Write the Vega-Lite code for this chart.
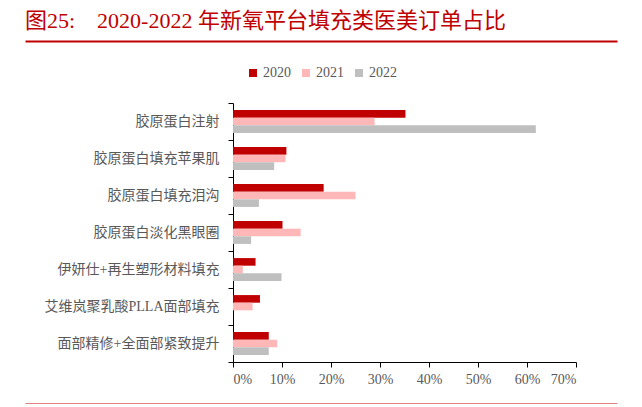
{
  "$schema": "https://vega.github.io/schema/vega-lite/v6.json",
  "background": "white",
  "padding": {"left": 22, "top": 10, "right": 0, "bottom": 0},
  "spacing": 12,
  "bounds": "full",
  "resolve": {"legend": {"color": "independent"}},
  "config": {
    "view": {"stroke": null},
    "axis": {"labelFont": "Liberation Serif, Noto Sans CJK SC", "labelColor": "#595959", "labelFontSize": 14}
  },
  "datasets": {
    "orders": [
      {"cat": "胶原蛋白注射", "year": "2020", "value": 35.2},
      {"cat": "胶原蛋白注射", "year": "2021", "value": 28.9},
      {"cat": "胶原蛋白注射", "year": "2022", "value": 61.8},
      {"cat": "胶原蛋白填充苹果肌", "year": "2020", "value": 10.9},
      {"cat": "胶原蛋白填充苹果肌", "year": "2021", "value": 10.7},
      {"cat": "胶原蛋白填充苹果肌", "year": "2022", "value": 8.4},
      {"cat": "胶原蛋白填充泪沟", "year": "2020", "value": 18.5},
      {"cat": "胶原蛋白填充泪沟", "year": "2021", "value": 25.0},
      {"cat": "胶原蛋白填充泪沟", "year": "2022", "value": 5.3},
      {"cat": "胶原蛋白淡化黑眼圈", "year": "2020", "value": 10.1},
      {"cat": "胶原蛋白淡化黑眼圈", "year": "2021", "value": 13.8},
      {"cat": "胶原蛋白淡化黑眼圈", "year": "2022", "value": 3.7},
      {"cat": "伊妍仕+再生塑形材料填充", "year": "2020", "value": 4.6},
      {"cat": "伊妍仕+再生塑形材料填充", "year": "2021", "value": 2.0},
      {"cat": "伊妍仕+再生塑形材料填充", "year": "2022", "value": 9.9},
      {"cat": "艾维岚聚乳酸PLLA面部填充", "year": "2020", "value": 5.5},
      {"cat": "艾维岚聚乳酸PLLA面部填充", "year": "2021", "value": 4.0},
      {"cat": "艾维岚聚乳酸PLLA面部填充", "year": "2022", "value": 0},
      {"cat": "面部精修+全面部紧致提升", "year": "2020", "value": 7.3},
      {"cat": "面部精修+全面部紧致提升", "year": "2021", "value": 9.0},
      {"cat": "面部精修+全面部紧致提升", "year": "2022", "value": 7.3}
    ]
  },
  "vconcat": [
    {
      "width": 384,
      "height": 13,
      "title": {
        "text": "图25:\u00a0\u00a0\u00a0\u00a02020-2022 年新氧平台填充类医美订单占比",
        "anchor": "start",
        "frame": "group",
        "dx": -208,
        "color": "#C00000",
        "fontSize": 22,
        "fontWeight": "normal",
        "font": "Liberation Serif, Noto Sans CJK SC",
        "offset": 8
      },
      "data": {"values": [{"v": 0}]},
      "mark": {"type": "point", "opacity": 0},
      "encoding": {
        "x": {
          "field": "v", "type": "quantitative",
          "scale": {"domain": [0, 1], "range": [-208, 384]},
          "axis": {"orient": "top", "domainColor": "#C00000", "domainWidth": 2, "ticks": false, "labels": false, "title": null, "grid": false}
        }
      }
    },
    {
      "width": 343,
      "height": 259,
      "data": {"name": "orders"},
      "mark": {"type": "bar"},
      "encoding": {
        "y": {
          "field": "cat", "type": "nominal",
          "sort": ["胶原蛋白注射", "胶原蛋白填充苹果肌", "胶原蛋白填充泪沟", "胶原蛋白淡化黑眼圈", "伊妍仕+再生塑形材料填充", "艾维岚聚乳酸PLLA面部填充", "面部精修+全面部紧致提升"],
          "scale": {"paddingInner": 0, "paddingOuter": 0},
          "axis": {
            "title": null,
            "tickBand": "extent", "tickSize": 5, "tickColor": "#000000", "domainColor": "#000000",
            "labelPadding": 9, "grid": false
          }
        },
        "yOffset": {
          "field": "year", "type": "nominal",
          "scale": {"paddingInner": 0, "paddingOuter": 0.93}
        },
        "x": {
          "field": "value", "type": "quantitative",
          "scale": {"domain": [0, 70], "nice": false},
          "axis": {
            "title": null, "values": [0, 10, 20, 30, 40, 50, 60, 70],
            "labelExpr": "datum.value + '%'", "grid": false,
            "tickSize": 5, "tickColor": "#000000", "domainColor": "#000000", "labelPadding": 5
          }
        },
        "color": {
          "field": "year", "type": "nominal",
          "scale": {"domain": ["2020", "2021", "2022"], "range": ["#C00000", "#FFB7B7", "#BFBFBF"]},
          "legend": {
            "title": null, "orient": "none", "legendX": 13, "legendY": -37,
            "direction": "horizontal", "symbolType": "square", "symbolSize": 64,
            "symbolStrokeWidth": 0, "labelFont": "Liberation Serif", "labelFontSize": 14,
            "labelColor": "#595959", "columnPadding": 8, "padding": 0, "labelOffset": 3
          }
        }
      }
    },
    {
      "width": 384,
      "height": 6,
      "data": {"values": [{"v": 0}]},
      "mark": {"type": "point", "opacity": 0},
      "encoding": {
        "x": {
          "field": "v", "type": "quantitative",
          "scale": {"domain": [0, 1], "range": [-208, 384]},
          "axis": {"orient": "bottom", "domainColor": "#C00000", "domainWidth": 2, "ticks": false, "labels": false, "title": null, "grid": false}
        }
      }
    }
  ]
}
